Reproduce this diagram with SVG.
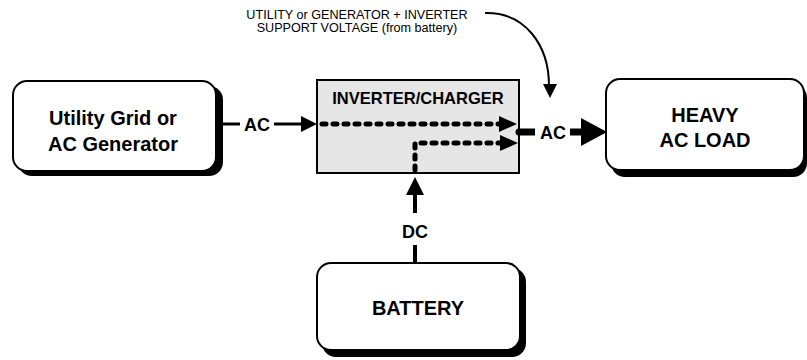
<svg xmlns="http://www.w3.org/2000/svg" width="807" height="360" viewBox="0 0 807 360">
<style>
.box{fill:#fff;stroke:#000;stroke-width:2}
.shadow{fill:#000}
.big{font-family:"Liberation Sans",Arial,sans-serif;font-weight:bold;font-size:20px;text-anchor:middle;fill:#000}
.lbl{font-family:"Liberation Sans",Arial,sans-serif;font-weight:bold;font-size:18px;text-anchor:middle;fill:#000}
.note{font-family:"Liberation Sans",Arial,sans-serif;font-size:12.6px;text-anchor:middle;fill:#000}
.dash{fill:none;stroke:#000;stroke-width:5;stroke-dasharray:4 7;stroke-linecap:round}
.ln{stroke:#000;fill:none}
</style>
<rect width="807" height="360" fill="#fff"/>
<g id="source">
<rect class="shadow" x="18" y="86" width="205" height="90" rx="14"/>
<rect class="box" x="13" y="81" width="203" height="90" rx="14"/>
<text class="big" x="113" y="125">Utility Grid or</text>
<text class="big" x="113" y="151">AC Generator</text>
</g>
<g id="inverter">
<rect x="317" y="80" width="202" height="93" fill="#e6e6e6" stroke="#000" stroke-width="2"/>
<text x="418" y="104" font-family="Liberation Sans, Arial, sans-serif" font-weight="bold" font-size="16.5" text-anchor="middle">INVERTER/CHARGER</text>
</g>
<g id="load">
<rect class="shadow" x="611" y="84" width="196" height="93" rx="14"/>
<rect class="box" x="606" y="79" width="198" height="91" rx="14"/>
<text class="big" x="705" y="122">HEAVY</text>
<text class="big" x="705" y="147">AC LOAD</text>
</g>
<g id="battery">
<rect class="shadow" x="322" y="268" width="204" height="89" rx="14"/>
<rect class="box" x="317" y="263" width="203" height="87" rx="14"/>
<text class="big" x="418" y="315">BATTERY</text>
</g>
<g id="connectors">
<line class="ln" x1="216" y1="124" x2="240" y2="124" stroke-width="3"/>
<text class="lbl" x="257" y="131">AC</text>
<line class="ln" x1="274" y1="124" x2="305" y2="124" stroke-width="3"/>
<polygon points="301,116 317,124 301,132"/>
<path class="dash" d="M322,124 H500"/>
<polygon points="499,116 517,124 499,132"/>
<path class="dash" d="M415,170 V143 H500"/>
<polygon points="500,135 518,143 500,151"/>
<path d="M519,128.5 H535 V135.5 H519 A3.5,3.5 0 0 1 519,128.5 Z"/>
<text class="lbl" x="553" y="139">AC</text>
<rect x="570" y="128.5" width="13" height="7"/>
<polygon points="581,118 607,132 581,146"/>
<line class="ln" x1="415" y1="245" x2="415" y2="263" stroke-width="4"/>
<text class="lbl" x="415" y="238">DC</text>
<line class="ln" x1="415" y1="213" x2="415" y2="192" stroke-width="4"/>
<polygon points="406,195 415,177 424,195"/>
<path class="ln" d="M485,13 C525,12 549,45 549,86" stroke-width="2"/>
<polygon points="543,84 550,98 557,84"/>
</g>
<g id="note">
<text class="note" x="357" y="19">UTILITY or GENERATOR + INVERTER</text>
<text class="note" x="357" y="32">SUPPORT VOLTAGE (from battery)</text>
</g>
</svg>
